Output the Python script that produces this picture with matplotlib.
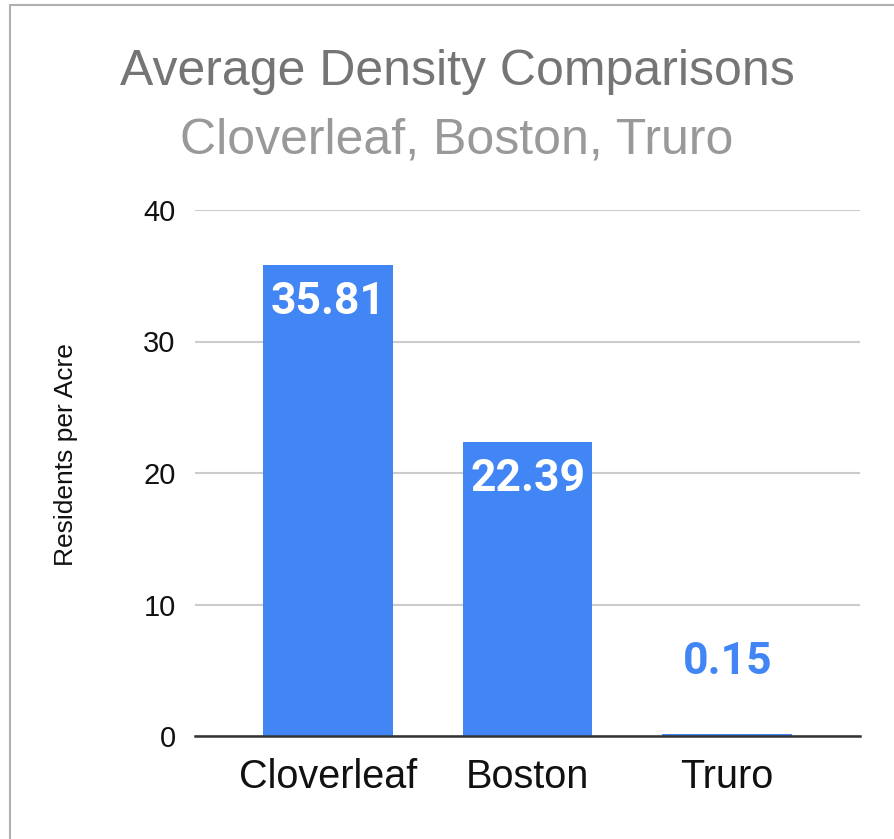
import matplotlib.pyplot as plt
from matplotlib.patches import Rectangle

places = ['Cloverleaf', 'Boston', 'Truro']
density = [35.81, 22.39, 0.15]
yticks = [0, 10, 20, 30, 40]

blue = '#4285F4'
plt.rcParams['font.family'] = ['Liberation Sans', 'DejaVu Sans']

fig = plt.figure(figsize=(8.94, 8.39), dpi=100)
ax = fig.add_axes([195 / 894, 1 - 736 / 839, 665 / 894, 526 / 839])

x = range(len(places))
bars = ax.bar(x, density, width=0.65, color=blue, zorder=3)

# value labels: inside bar when tall, above it when tiny
for b, v in zip(bars, density):
    cx = b.get_x() + b.get_width() / 2
    if v > 5:
        ax.annotate(f'{v:.2f}', (cx, v), xytext=(0, -37), textcoords='offset pixels',
                    ha='center', va='center', color='white', fontsize=32,
                    fontweight='bold', family='Roboto', zorder=4)
    else:
        ax.annotate(f'{v:.2f}', (cx, v), xytext=(0, 72), textcoords='offset pixels',
                    ha='center', va='center', color=blue, fontsize=32,
                    fontweight='bold', family='Roboto', zorder=4)

ax.set_xlim(-0.665, 2.665)
ax.set_ylim(0, 40)
ax.set_yticks(yticks)
ax.set_xticks(list(x))
ax.set_xticklabels(places, fontsize=28.5, color='#111111')
ax.tick_params(axis='y', labelsize=21, length=0, pad=14, colors='#111111')
ax.tick_params(axis='x', length=0, pad=16)
ax.grid(axis='y', color='#cccccc', linewidth=1.5, zorder=0)
for s in ['top', 'right', 'left']:
    ax.spines[s].set_visible(False)
ax.spines['bottom'].set_color('#333333')
ax.spines['bottom'].set_linewidth(1.8)
ax.spines['bottom'].set_zorder(5)
ax.set_ylabel('Residents per Acre', fontsize=19, color='#111111')
ax.yaxis.set_label_coords((78 - 195) / 665, (736 - 455) / 526)

fig.text(457 / 894, 1 - 72 / 839, 'Average Density Comparisons', ha='center', va='center',
         fontsize=36, color='#757575')
fig.text(457 / 894, 1 - 140 / 839, 'Cloverleaf, Boston, Truro', ha='center', va='center',
         fontsize=36, color='#999999')

# screenshot border
fig.add_artist(Rectangle((10 / 894, -0.1), 1.2, 1 - 5 / 839 + 0.1, transform=fig.transFigure,
                         fill=False, edgecolor='#b0b0b0', linewidth=1.5))

fig.savefig('out.png', dpi=100)
